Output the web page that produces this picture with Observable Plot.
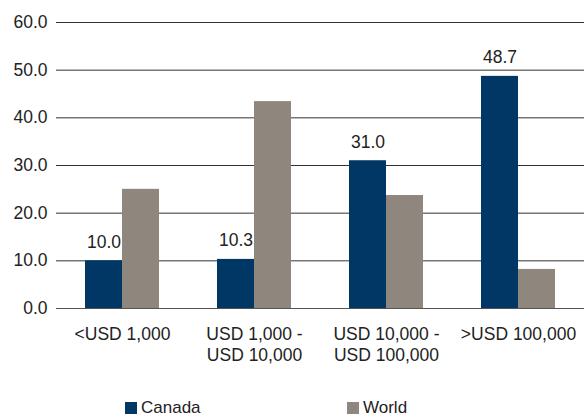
<!DOCTYPE html>
<html>
<head>
<meta charset="utf-8">
<script src="https://cdn.jsdelivr.net/npm/d3@7"></script>
<script src="https://cdn.jsdelivr.net/npm/@observablehq/plot@0.6"></script>
<style>
  html, body { margin: 0; padding: 0; background: #fff; overflow: hidden; }
  body { width: 585px; height: 416px; font-family: "Liberation Sans", Arial, sans-serif; }
  #legend { position: relative; height: 26px; font-size: 17px; color: #222; }
  .item { position: absolute; top: 8px; display: flex; align-items: center; gap: 4px; line-height: 20px; }
  .sw { width: 12px; height: 12px; display: inline-block; }
</style>
</head>
<body>
<div id="chart"></div>
<div id="legend"></div>
<script>
const categories = ["<USD 1,000", "USD 1,000 -\nUSD 10,000", "USD 10,000 -\nUSD 100,000", ">USD 100,000"];
const series = ["Canada", "World"];
const canadaValues = [10.0, 10.3, 31.0, 48.7];
const worldValues = [25.0, 43.4, 23.7, 8.2];
const yTicks = [0, 10, 20, 30, 40, 50, 60];
const colors = ["#003764", "#8f877e"];

const data = [];
categories.forEach((c, i) => {
  data.push({category: c, series: "Canada", value: canadaValues[i]});
  data.push({category: c, series: "World", value: worldValues[i]});
});

const plot = Plot.plot({
  width: 585,
  height: 390,
  marginTop: 22,
  marginBottom: 82,
  marginLeft: 55,
  marginRight: 0,
  style: {fontFamily: "'Liberation Sans', Arial, sans-serif", fontSize: "17.5px", color: "#222", background: "white", overflow: "visible"},
  fx: {domain: categories, padding: 0, label: null},
  x: {domain: series, paddingInner: 0, paddingOuter: 0.74, axis: null},
  y: {domain: [0, 60], label: null},
  color: {domain: series, range: colors},
  marks: [
    Plot.gridY(yTicks, {stroke: "#333", strokeOpacity: 1, strokeWidth: 1}),
    Plot.axisY(yTicks, {tickSize: 0, tickPadding: 9, tickFormat: d3.format(".1f"), label: null, fill: "#222"}),
    Plot.axisFx({anchor: "bottom", tickSize: 0, tickPadding: 16, label: null, lineHeight: 1.22, fill: "#222"}),
    Plot.barY(data, {fx: "category", x: "series", y: "value", fill: "series"}),
    Plot.ruleY([0], {stroke: "#555"}),
    Plot.text(data.filter(d => d.series === "Canada"), {
      fx: "category", x: "series", y: "value",
      text: d => d3.format(".1f")(d.value),
      lineAnchor: "bottom", dy: -13, fill: "#222", fontSize: 17.5
    })
  ]
});
document.getElementById("chart").appendChild(plot);

const legend = document.getElementById("legend");
const lefts = [125, 347];
series.forEach((s, i) => {
  const item = document.createElement("div");
  item.className = "item";
  item.style.left = lefts[i] + "px";
  const sw = document.createElement("span");
  sw.className = "sw";
  sw.style.background = colors[i];
  const t = document.createElement("span");
  t.textContent = s;
  item.appendChild(sw);
  item.appendChild(t);
  legend.appendChild(item);
});
</script>
</body>
</html>
